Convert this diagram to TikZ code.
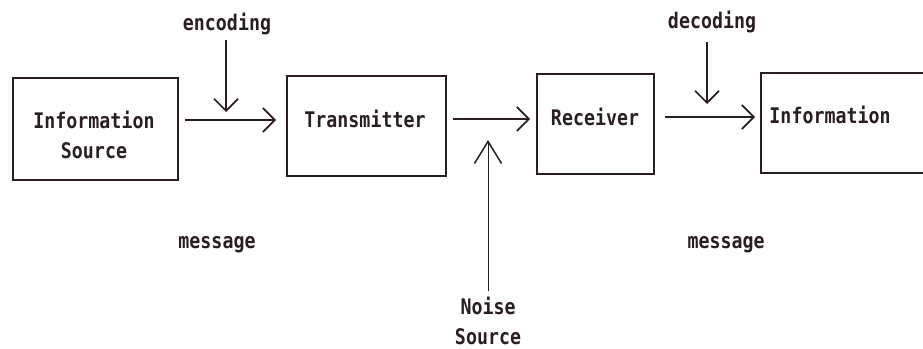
\documentclass[tikz,border=0pt]{standalone}
\usepackage{fontspec}
\newfontfamily\dotfont[FakeStretch=0.85]{DejaVu Sans Mono}
\usetikzlibrary{arrows.meta}
\definecolor{ink}{HTML}{2A1E20}
\begin{document}
\begin{tikzpicture}[x=1pt,y=-1pt,
  txt/.style={font=\dotfont\bfseries\fontsize{21.5}{30}\selectfont, text=ink, inner sep=0pt, align=center},
  blk/.style={draw=ink, line width=1.7pt, minimum height=102pt, anchor=north west, inner sep=0pt},
  arr/.style={draw=ink, line width=1.7pt, -{Straight Barb[length=12pt,width=24pt,line width=1.7pt]}},
  nar/.style={draw=ink, line width=1pt, -{Straight Barb[length=22pt,width=27pt,line width=1.5pt]}}
]
\useasboundingbox (0,0) rectangle (923,348);
% boxes
\node[blk, minimum width=165pt] (src) at (12,77) {};
\node[txt] at (94,135) {Information\\Source};
\node[blk, minimum width=159pt, minimum height=100pt] (tx) at (286,75) {};
\node[txt] at (365,119) {Transmitter};
\node[blk, minimum width=117pt, minimum height=100pt] (rx) at (536,73) {};
\node[txt] at (595,117) {Receiver};
\node[blk, minimum width=170pt, minimum height=100pt] (dst) at (760,72) {};
\node[txt] at (830,115) {Information};
% labels
\node[txt] (enc) at (227,24) {encoding};
\node[txt] (dec) at (712,22) {decoding};
\node[txt] (m1) at (217,245) {message};
\node[txt] (m2) at (726,245) {message};
\node[txt] (noise) at (488,321) {Noise\\Source};
% connectors
\coordinate (e1) at (226,40);
\coordinate (e2) at (226,112);
\coordinate (d1) at (707,42);
\coordinate (d2) at (707,104);
\coordinate (n1) at (488,291);
\coordinate (n2) at (488,140);
\draw[arr] ([xshift=6pt]src.east |- 0,120) -- ([xshift=-10pt]tx.west |- 0,120);
\draw[arr] ([xshift=6pt]tx.east |- 0,119) -- ([xshift=-6pt]rx.west |- 0,119);
\draw[arr] ([xshift=10pt]rx.east |- 0,117) -- ([xshift=-5pt]dst.west |- 0,117);
\draw[arr] (e1) -- (e2);
\draw[arr] (d1) -- (d2);
\draw[nar] (n1) -- (n2);
\end{tikzpicture}
\end{document}
